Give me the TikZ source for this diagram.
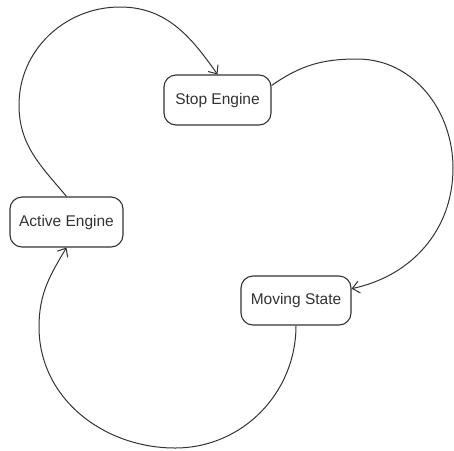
\documentclass[tikz,border=0pt]{standalone}
\usepackage{fontspec}
\setmainfont{Liberation Sans}
\usetikzlibrary{arrows.meta}
\begin{document}
\begin{tikzpicture}[x=1pt,y=-1pt,
  state/.style={draw=black!80, line width=1.1pt, rounded corners=12pt, inner sep=0pt,
    minimum height=50pt, font=\fontsize{15.5}{18}\selectfont, text=black!80},
  trans/.style={draw=black!80, line width=1pt, -{Straight Barb[length=7pt,width=12pt]}}]
\useasboundingbox[fill=white] (0,0) rectangle (454,450);
\node[state, minimum width=107pt] (stop) at (217.5,100) {Stop Engine};
\node[state, minimum width=113pt] (act) at (66.5,222) {Active Engine};
\node[state, minimum width=110pt, minimum height=49pt] (mov) at (296,300.5) {Moving State};
\coordinate (a1l) at (19,105);
\coordinate (a1t) at (120,7);
\coordinate (a2t) at (357,59);
\coordinate (a2r) at (453,168);
\coordinate (a3b) at (175,448);
\coordinate (a3l) at (39,327);
\draw[trans] (act.north) to[out=130,in=-90] (a1l) to[out=90,in=180] (a1t) to[out=0,in=125] (stop.north);
\draw[trans] (stop.15) to[out=35,in=180] (a2t) to[out=0,in=90] (a2r) to[out=-90,in=12] (mov.12);
\draw[trans] (mov.south) to[out=-90,in=0] (a3b) to[out=180,in=-90] (a3l) to[out=90,in=239] (act.south);
\end{tikzpicture}
\end{document}
